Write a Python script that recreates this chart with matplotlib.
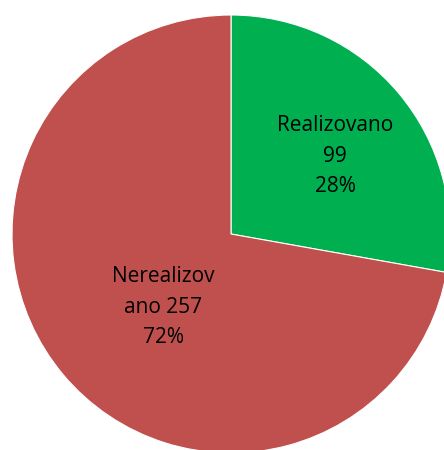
import matplotlib.pyplot as plt

categories = ['Realizovano', 'Nerealizovano']
values = [99, 257]
percents = ['28%', '72%']
label_texts = ['Realizovano\n99\n28%', 'Nerealizov\nano 257\n72%']
colors = ['#00B050', '#C0504D']

fig = plt.figure(figsize=(4.44, 4.5), dpi=100)
# axes in pixels: center (231, 234 from top), radius 219
ax = fig.add_axes([12 / 444, -3 / 450, 438 / 444, 438 / 450])
wedges, _ = ax.pie(values, colors=colors, startangle=90, counterclock=False,
                   radius=1, wedgeprops=dict(edgecolor='white', linewidth=0.8))
ax.set_xlim(-1, 1)
ax.set_ylim(-1, 1)
ax.set_aspect('equal')
ax.axis('off')

label_pos = [(0.475, 0.355), (-0.31, -0.335)]
for (x, y), txt in zip(label_pos, label_texts):
    ax.text(x, y, txt, ha='center', va='center', fontsize=15,
            family='Open Sans', linespacing=1.6, color='black')

plt.savefig('out.png', dpi=100)
